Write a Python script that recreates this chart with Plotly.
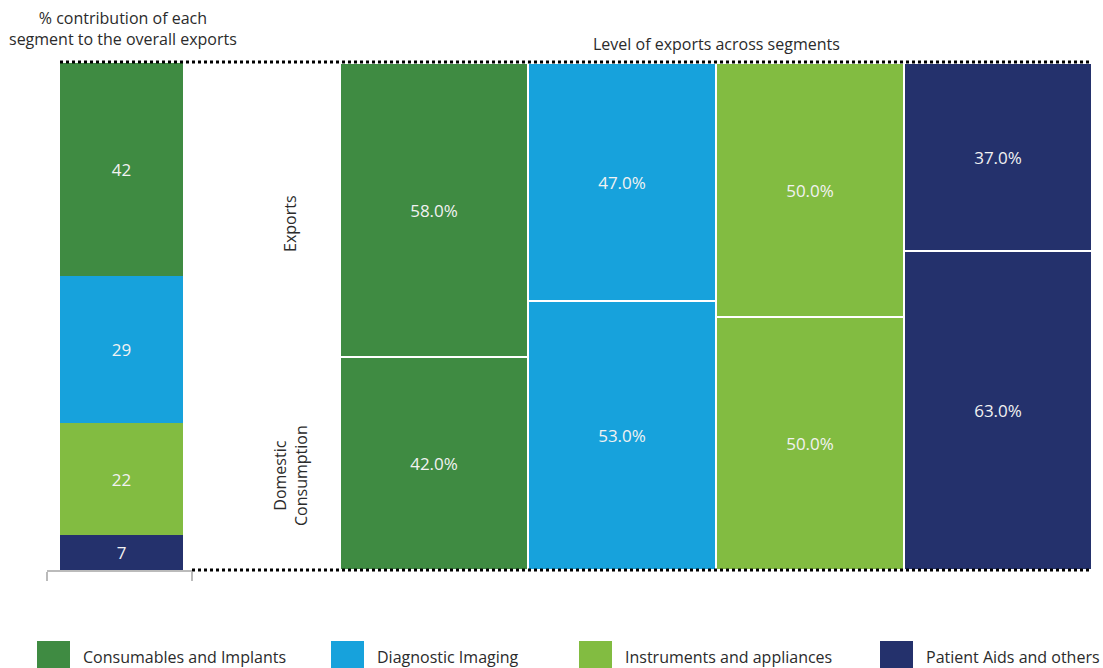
import plotly.graph_objects as go

# Segment data
segments = ["Consumables and Implants", "Diagnostic Imaging",
            "Instruments and appliances", "Patient Aids and others"]
contribution = [42, 29, 22, 7]          # % contribution to overall exports
exports_share = [58.0, 47.0, 50.0, 37.0]  # % of segment exported
domestic_share = [42.0, 53.0, 50.0, 63.0]  # % of segment consumed domestically
colors = ["#3F8B42", "#17A2DC", "#82BC41", "#24316C"]

W, H = 1103, 668
FONT = "Open Sans"
TXT = "#2B2B2B"
VAL = "#F2F2F2"

def px(x):
    return x / W

def py(y):
    return (H - y) / H

fig = go.Figure()

# Left stacked bar: contribution of each segment (drawn bottom-up)
for seg, val, col in reversed(list(zip(segments, contribution, colors))):
    fig.add_trace(go.Bar(
        x=[0], y=[val], width=[0.848], offset=-0.41,
        marker=dict(color=col, line=dict(width=0)),
        text=[str(val)], textposition="inside", insidetextanchor="middle",
        textfont=dict(color=VAL, size=17, family=FONT),
        xaxis="x", yaxis="y", showlegend=False, hoverinfo="skip", name=seg,
    ))

# Right mosaic: domestic consumption (bottom) and exports (top)
xpos = [i + 0.5 for i in range(len(segments))]
fig.add_trace(go.Bar(
    x=xpos, y=domestic_share, width=[1] * 4,
    marker=dict(color=colors, line=dict(color="white", width=2)),
    text=[f"{v:.1f}%" for v in domestic_share], textposition="inside",
    insidetextanchor="middle", textfont=dict(color=VAL, size=17, family=FONT),
    xaxis="x2", yaxis="y2", showlegend=False, hoverinfo="skip",
))
fig.add_trace(go.Bar(
    x=xpos, y=exports_share, width=[1] * 4,
    marker=dict(color=colors, line=dict(color="white", width=2)),
    text=[f"{v:.1f}%" for v in exports_share], textposition="inside",
    insidetextanchor="middle", textfont=dict(color=VAL, size=17, family=FONT),
    xaxis="x2", yaxis="y2", showlegend=False, hoverinfo="skip",
))

y_dom = [py(570), py(63)]

fig.update_layout(
    width=W, height=H, margin=dict(l=0, r=0, t=0, b=0),
    paper_bgcolor="white", plot_bgcolor="white",
    barmode="stack", bargap=0,
    font=dict(family=FONT, color=TXT),
    xaxis=dict(domain=[px(47), px(192)], range=[-0.5, 0.5],
               showgrid=False, zeroline=False, showline=True, linecolor="#BBBBBB",
               linewidth=2, ticks="outside", tickvals=[-0.5, 0.5], ticktext=["", ""],
               ticklen=9, tickcolor="#BBBBBB", tickwidth=2, fixedrange=True),
    yaxis=dict(domain=y_dom, range=[0, 100], visible=False, fixedrange=True),
    xaxis2=dict(domain=[px(340), px(1092)], range=[0, 4], visible=False, fixedrange=True),
    yaxis2=dict(domain=y_dom, range=[0, 100], visible=False, anchor="x2", fixedrange=True),
)

# Dotted frame lines
fig.add_shape(type="line", xref="paper", yref="paper", x0=px(60), x1=px(1092),
              y0=py(62), y1=py(62), line=dict(color="black", width=3, dash="3px,3px"))
fig.add_shape(type="line", xref="paper", yref="paper", x0=px(192), x1=px(1092),
              y0=py(570), y1=py(570), line=dict(color="black", width=3, dash="3px,3px"))

# Titles
fig.add_annotation(x=px(123), y=py(29), xref="paper", yref="paper",
                   text="% contribution of each<br>segment to the overall exports",
                   showarrow=False, font=dict(size=16, family=FONT, color=TXT),
                   xanchor="center", yanchor="middle", align="center")
fig.add_annotation(x=px(716), y=py(44), xref="paper", yref="paper",
                   text="Level of exports across segments",
                   showarrow=False, font=dict(size=16, family=FONT, color=TXT),
                   xanchor="center", yanchor="middle")

# Row labels
fig.add_annotation(x=px(290), y=py(224), xref="paper", yref="paper", text="Exports",
                   textangle=-90, showarrow=False, xanchor="center", yanchor="middle",
                   font=dict(size=16, family=FONT, color=TXT))
fig.add_annotation(x=px(291), y=py(476), xref="paper", yref="paper",
                   text="Domestic<br>Consumption", textangle=-90, showarrow=False,
                   xanchor="center", yanchor="middle",
                   align="center", font=dict(size=16, family=FONT, color=TXT))

# Legend
legend_x = [37, 331, 579, 880]
for seg, col, lx in zip(segments, colors, legend_x):
    fig.add_shape(type="rect", xref="paper", yref="paper", x0=px(lx), x1=px(lx + 33),
                  y0=py(668), y1=py(641), fillcolor=col, line=dict(width=0))
    fig.add_annotation(x=px(lx + 44), y=py(657), xref="paper", yref="paper", text=seg,
                       showarrow=False, xanchor="left", yanchor="middle",
                       font=dict(size=16, family=FONT, color=TXT))

fig.write_html("out.html")
